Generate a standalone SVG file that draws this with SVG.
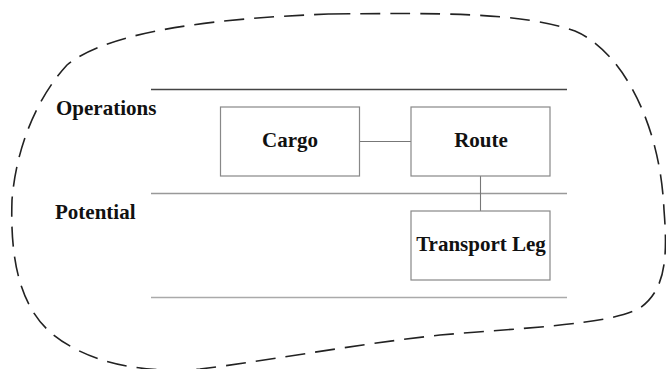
<svg xmlns="http://www.w3.org/2000/svg" width="666" height="369" viewBox="0 0 666 369">
<style>
.lbl{font-family:"Liberation Serif","Times New Roman",serif;font-weight:bold;font-size:21px;fill:#111}
.node rect{fill:#fff;stroke:#888;stroke-width:1.2}
.conn{stroke:#777;stroke-width:1.1;fill:none}
.sep{stroke-width:1.5;fill:none}
</style>
<rect width="666" height="369" fill="#fff"/>
<path id="boundary" d="M330,14 C440,13 520,12 575,31 C620,50 660,120 664,210 C668,260 665,290 640,308 C610,325 520,328 440,335 C350,345 260,362 200,369 C140,374 85,362 50,332 C20,305 10,260 12,200 C16,150 35,100 67,65 C110,30 220,18 330,14 Z" fill="none" stroke="#222" stroke-width="1.6" stroke-dasharray="20 10"/>
<g id="lanes">
<line class="sep" x1="151" y1="89.5" x2="567" y2="89.5" stroke="#444" stroke-width="1"/>
<line class="sep" x1="151" y1="193.5" x2="567" y2="193.5" stroke="#999"/>
<line class="sep" x1="151" y1="297.5" x2="567" y2="297.5" stroke="#aaa" stroke-width="2"/>
<text class="lbl" x="56" y="115">Operations</text>
<text class="lbl" x="55" y="219">Potential</text>
</g>
<g id="connectors">
<line class="conn" x1="360" y1="141.5" x2="411" y2="141.5"/>
<line class="conn" x1="480.5" y1="176" x2="480.5" y2="211"/>
</g>
<g id="cargo" class="node">
<rect x="220.5" y="107" width="139" height="69"/>
<text class="lbl" x="290" y="147" text-anchor="middle">Cargo</text>
</g>
<g id="route" class="node">
<rect x="411" y="107" width="139" height="69"/>
<text class="lbl" x="481" y="147" text-anchor="middle">Route</text>
</g>
<g id="transport-leg" class="node">
<rect x="411" y="211" width="139" height="69"/>
<text class="lbl" x="481" y="251" text-anchor="middle">Transport Leg</text>
</g>
</svg>
